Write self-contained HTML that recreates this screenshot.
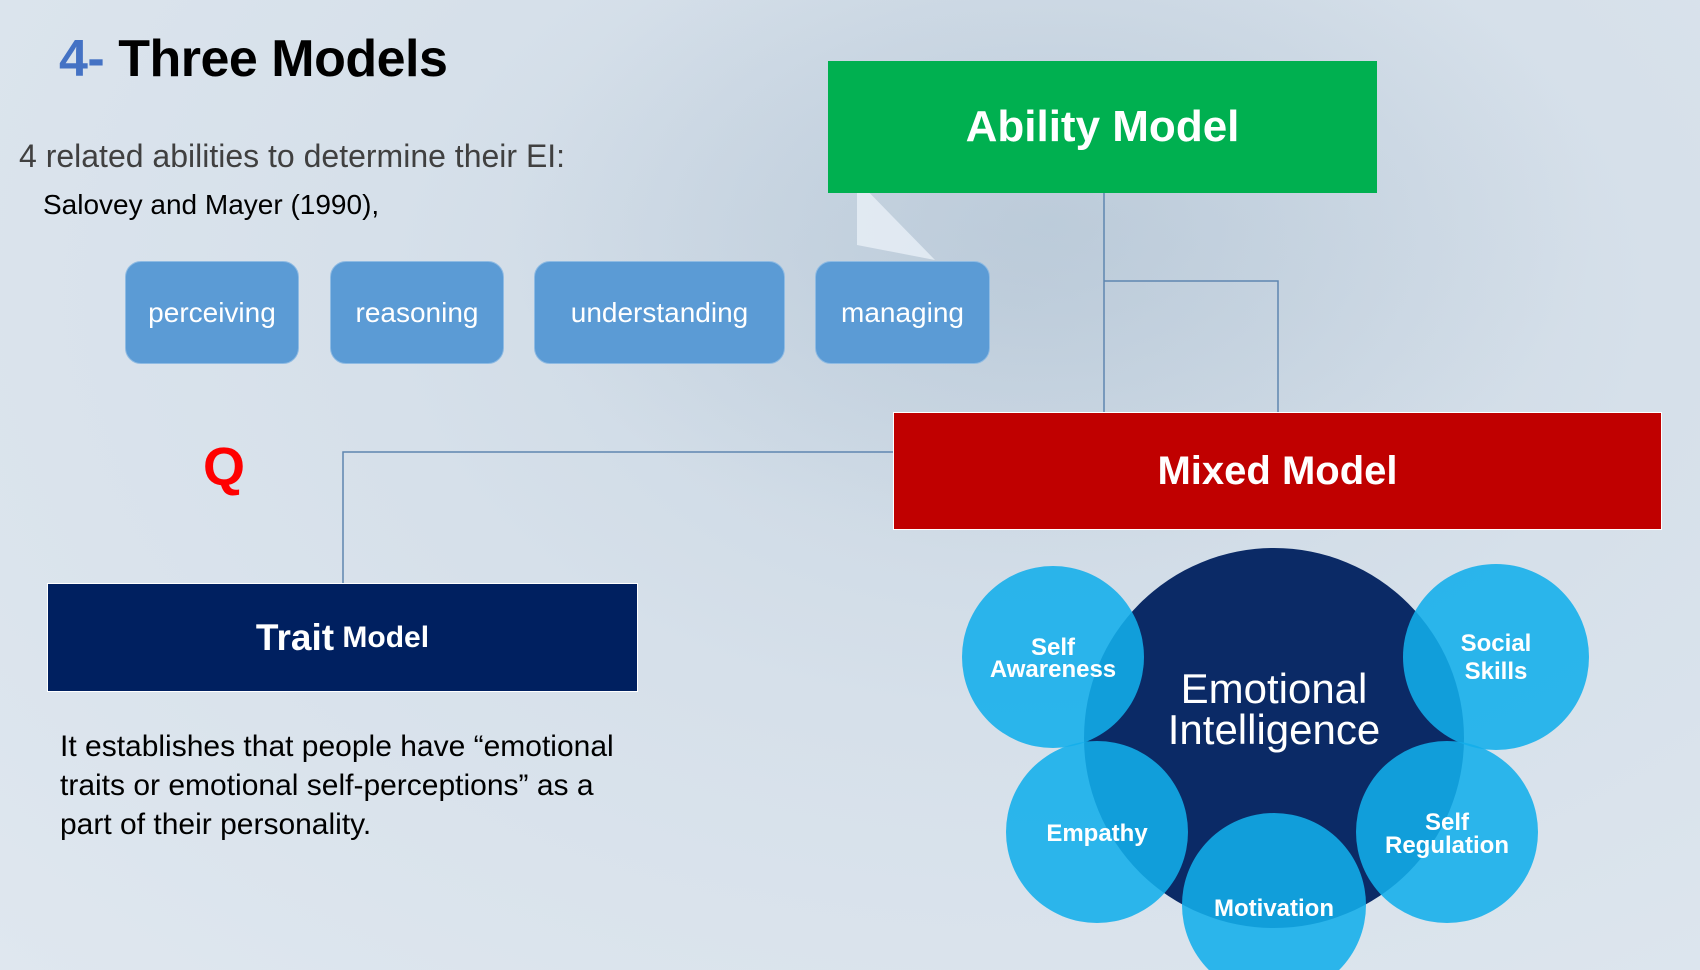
<!DOCTYPE html>
<html><head><meta charset="utf-8"><style>
*{margin:0;padding:0;box-sizing:border-box}
body{width:1700px;height:970px;overflow:hidden;position:relative;font-family:"Liberation Sans",sans-serif;
background:radial-gradient(ellipse at 60% 30%,#c9d6e2 0%,#d6e0ea 45%,#dfe7ef 100%);}
.abs{position:absolute}
.pill{position:absolute;top:261px;height:103px;background:#5b9bd5;border:1px solid #8fbbe3;border-radius:16px;color:#fff;font-size:28px;display:flex;align-items:center;justify-content:center}
.box{position:absolute;display:flex;align-items:center;justify-content:center;color:#fff;font-weight:bold}
</style></head><body>
<div class="abs" style="left:500px;top:0;width:1100px;height:560px;background:radial-gradient(ellipse at 50% 40%,rgba(160,180,200,0.35),rgba(200,215,230,0) 70%)"></div>
<div class="abs" style="left:59px;top:29px;font-size:52px;font-weight:bold;color:#000;letter-spacing:-0.5px"><span style="color:#4472c4">4-</span> Three Models</div>
<div class="abs" style="left:19px;top:138px;font-size:32px;color:#404040">4 related abilities to determine their EI:</div>
<div class="abs" style="left:43px;top:189px;font-size:28px;color:#000">Salovey and Mayer (1990),</div>
<div class="pill" style="left:125px;width:174px">perceiving</div>
<div class="pill" style="left:330px;width:174px">reasoning</div>
<div class="pill" style="left:534px;width:251px">understanding</div>
<div class="pill" style="left:815px;width:175px">managing</div>
<svg class="abs" style="left:0;top:0" width="1700" height="970">
<polygon points="857,180 857,245 935,260" fill="rgba(235,242,248,0.75)"/>
<g stroke="#5f86b0" stroke-width="1.5" fill="none">
<line x1="1104" y1="193" x2="1104" y2="412"/>
<polyline points="1104,281 1278,281 1278,412"/>
<polyline points="893,452 343,452 343,583"/>
</g>
</svg>
<div class="box" style="left:828px;top:61px;width:549px;height:132px;background:#00b050;font-size:44px">Ability Model</div>
<div class="box" style="left:893px;top:412px;width:769px;height:118px;background:#c00000;font-size:40px;border:1px solid #fff">Mixed Model</div>
<div class="abs" style="left:203px;top:436px;font-size:54px;font-weight:bold;color:#ff0000">Q</div>
<div class="box" style="left:47px;top:583px;width:591px;height:109px;background:#002060;border:1px solid #fff"><span style="font-size:37px">Trait</span><span style="font-size:30px">&nbsp;Model</span></div>
<div class="abs" style="left:60px;top:727px;width:660px;font-size:30px;line-height:39px;color:#000;white-space:nowrap">It establishes that people have “emotional<br>traits or emotional self-perceptions” as a<br>part of their personality.</div>
<svg class="abs" style="left:0;top:0" width="1700" height="970" font-family="Liberation Sans, sans-serif">
<circle cx="1274" cy="738" r="190" fill="#0b2a66"/>
<g fill="#12aeea" fill-opacity="0.88">
<circle cx="1053" cy="657" r="91"/>
<circle cx="1496" cy="657" r="93"/>
<circle cx="1097" cy="832" r="91"/>
<circle cx="1447" cy="832" r="91"/>
<circle cx="1274" cy="905" r="92"/>
</g>
<g fill="#fff" text-anchor="middle" font-weight="bold">
<text x="1274" y="703" font-size="42" font-weight="normal">Emotional</text>
<text x="1274" y="744" font-size="42" font-weight="normal">Intelligence</text>
<text x="1053" y="655" font-size="24">Self</text>
<text x="1053" y="677" font-size="24">Awareness</text>
<text x="1496" y="651" font-size="24">Social</text>
<text x="1496" y="679" font-size="24">Skills</text>
<text x="1097" y="841" font-size="24">Empathy</text>
<text x="1447" y="830" font-size="24">Self</text>
<text x="1447" y="853" font-size="24">Regulation</text>
<text x="1274" y="916" font-size="24">Motivation</text>
</g>
</svg>
</body></html>
